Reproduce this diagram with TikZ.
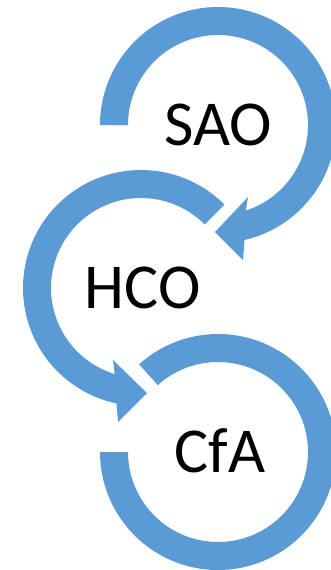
\documentclass[tikz,border=0pt]{standalone}
\usepackage{fontspec}
\setmainfont{Carlito}
\usepackage{tikz}
\usetikzlibrary{calc}
\definecolor{arrowBlue}{HTML}{5B9BD5}
\colorlet{textColor}{black}

\begin{document}
\begin{tikzpicture}[x=1pt,y=1pt,
ringArrow/.style={fill=arrowBlue,draw=none},
orgText/.style={font=\fontsize{64}{64}\selectfont,text=textColor,inner sep=0,anchor=base}
]
\useasboundingbox (0,0) rectangle (331,-570);
\clip (0,0) rectangle (331,-570);
\coordinate (c1) at (218,-125);
\coordinate (c2) at (141,-288);
\coordinate (c3) at (218,-452);
% SAO -> HCO
\fill[ringArrow] ($(c1)+(180:118)$) arc[start angle=180,end angle=-77,radius=118]
  -- ($(c1)+(25,-135)$) -- ($(c1)+(-3,-107)$) -- ($(c1)+(30,-72)$)
  -- ($(c1)+(-72:90)$) arc[start angle=-72,end angle=180,radius=90] -- cycle;
% HCO -> CfA
\fill[ringArrow] ($(c2)+(45:118)$) arc[start angle=45,end angle=258,radius=118]
  -- ($(c2)+(-23,-134)$) -- ($(c2)+(6,-105)$) -- ($(c2)+(-28,-72)$)
  -- ($(c2)+(253:90)$) arc[start angle=253,end angle=45,radius=90] -- cycle;
% CfA
\fill[ringArrow] ($(c3)+(180:118)$) arc[start angle=180,end angle=492,radius=118]
  -- ($(c3)+(132:90)$) arc[start angle=132,end angle=-180,radius=90] -- cycle;
\node[orgText] (sao) at (218.5,-145) {SAO};
\node[orgText] (hco) at (142.5,-308) {HCO};
\node[orgText] (cfa) at (220,-472) {CfA};
\end{tikzpicture}
\end{document}
